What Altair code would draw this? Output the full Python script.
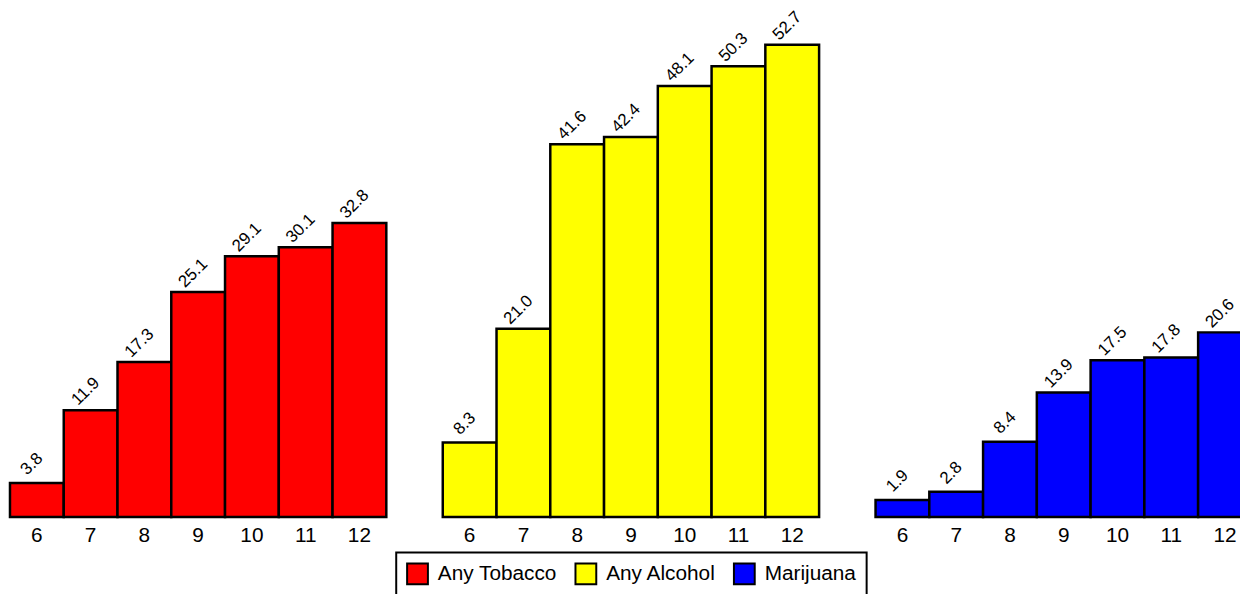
import altair as alt
import pandas as pd

grades = [6, 7, 8, 9, 10, 11, 12]
substances = ["Any Tobacco", "Any Alcohol", "Marijuana"]
colors = ["#FF0000", "#FFFF00", "#0000FF"]
tobacco = [3.8, 11.9, 17.3, 25.1, 29.1, 30.1, 32.8]
alcohol = [8.3, 21.0, 41.6, 42.4, 48.1, 50.3, 52.7]
marijuana = [1.9, 2.8, 8.4, 13.9, 17.5, 17.8, 20.6]

series = [tobacco, alcohol, marijuana]
rows = []
for s, vals in zip(substances, series):
    for g, v in zip(grades, vals):
        rows.append({"substance": s, "grade": g, "value": v})
df = pd.DataFrame(rows)

FONT = "Liberation Sans"

panels = []
for i, s in enumerate(substances):
    base = alt.Chart(df).transform_filter(alt.datum.substance == s)
    x = alt.X("grade:O", sort=grades,
              scale=alt.Scale(paddingInner=0, paddingOuter=0),
              axis=alt.Axis(title=None, labelAngle=0, ticks=False, domain=False,
                            labelFontSize=21, labelFont=FONT, labelColor="black",
                            labelPadding=8))
    y = alt.Y("value:Q", scale=alt.Scale(domain=[0, 55.6], nice=False), axis=None)
    color = alt.Color("substance:N",
                      scale=alt.Scale(domain=substances, range=colors),
                      legend=alt.Legend(title=None, orient="none", direction="horizontal",
                                        legendX=390, legendY=539,
                                        strokeColor="black", fillColor="white",
                                        padding=10, symbolType="square", symbolSize=441,
                                        symbolStrokeColor="black", symbolStrokeWidth=2,
                                        labelFontSize=21, labelFont=FONT, labelColor="black",
                                        labelOffset=9, columnPadding=14))
    bars = base.mark_bar(stroke="black", strokeWidth=2.5).encode(x=x, y=y, color=color)
    labels = base.mark_text(angle=315, align="center", baseline="middle",
                            dx=9.9, dy=-17, fontSize=17, font=FONT, color="black").encode(
        x=x, y=y, text=alt.Text("value:Q", format=".1f"))
    panels.append(alt.layer(bars, labels).properties(width=380, height=503))

chart = alt.hconcat(*panels, spacing=53).resolve_scale(color="shared").properties(
    padding={"top": -3, "left": 0, "right": -14, "bottom": 0}
).configure_view(stroke=None).configure_legend(strokeWidth=2)

chart.save("out.html", embed_options={"renderer": "svg", "actions": False})
